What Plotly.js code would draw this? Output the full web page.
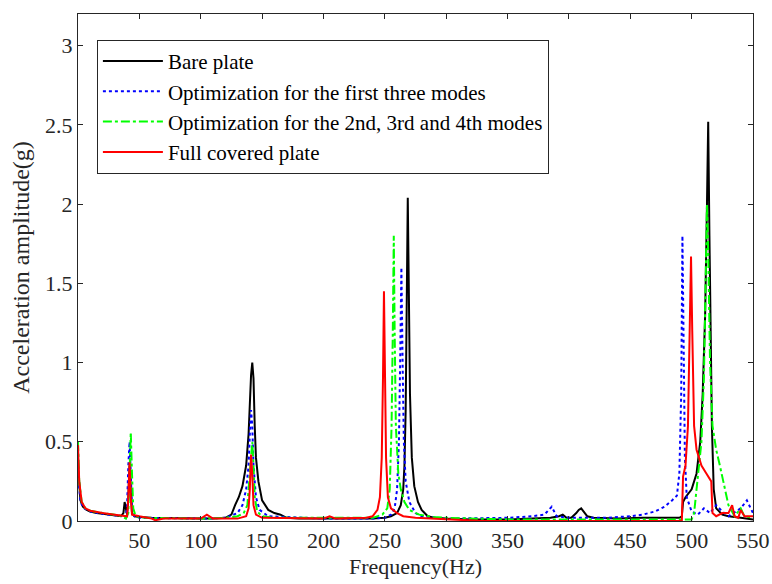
<!DOCTYPE html>
<html>
<head>
<meta charset="utf-8">
<script src="https://cdn.plot.ly/plotly-3.0.1.min.js"></script>
<style>html,body{margin:0;padding:0;background:#fff;}#chart{width:772px;height:584px;}</style>
</head>
<body>
<div id="chart"></div>
<script>
// Bare plate
const bareF = [0,1,2,4,7,10,15,20,25,30,35,37,38,39,40,41,42,43,44,46,50,60,70,80,90,100,110,120,125,128,131,134,137,139,140,141,142,143,144,145,147,150,155,160,165,170,180,200,220,240,250,255,260,263,265,266,267,268,268.7,269.5,270.5,272,274,277,280,285,290,300,320,350,370,385,392,395,398,402,406,408,410,412,415,420,440,460,480,490,492,493,495,500,504,507,509,511,512.5,513.5,514.5,515.5,516.5,518,520,525,530,540,550];
const bareA = [0.35,0.2,0.13,0.09,0.07,0.06,0.05,0.045,0.04,0.035,0.03,0.05,0.12,0.08,0.04,0.15,0.35,0.2,0.05,0.03,0.025,0.02,0.02,0.02,0.018,0.015,0.015,0.02,0.04,0.1,0.15,0.22,0.35,0.55,0.75,0.92,1.0,0.9,0.6,0.4,0.25,0.13,0.07,0.05,0.04,0.02,0.015,0.015,0.015,0.015,0.02,0.03,0.05,0.1,0.2,0.35,0.7,1.4,2.04,1.5,0.8,0.4,0.22,0.12,0.07,0.03,0.02,0.015,0.01,0.01,0.015,0.02,0.03,0.04,0.02,0.02,0.05,0.07,0.08,0.06,0.03,0.02,0.015,0.02,0.02,0.02,0.03,0.12,0.15,0.2,0.3,0.5,0.8,1.3,2.0,2.52,1.8,1.05,0.6,0.2,0.08,0.04,0.03,0.02,0.01];

// Optimization for the first three modes
const opt3F = [0,2,5,10,20,30,37,39,40,41,42,43,44,46,50,100,120,130,134,137,139,140,141,142,143,145,148,155,200,240,250,255,258,260,261.5,262.5,263.5,264.5,265.5,267,270,275,280,300,350,370,380,386,390,400,430,450,460,470,478,484,488,490,491.5,492.5,493.5,494.5,496,500,505,510,515,520,525,530,540,545,550];
const opt3A = [0.3,0.12,0.08,0.06,0.045,0.035,0.03,0.02,0.1,0.35,0.5,0.3,0.08,0.03,0.02,0.015,0.02,0.05,0.1,0.2,0.35,0.55,0.7,0.6,0.35,0.15,0.07,0.03,0.015,0.015,0.02,0.04,0.08,0.2,0.5,1.0,1.6,1.0,0.5,0.25,0.12,0.05,0.03,0.015,0.02,0.03,0.04,0.09,0.03,0.02,0.02,0.03,0.04,0.06,0.09,0.13,0.16,0.3,0.8,1.8,1.0,0.4,0.15,0.06,0.04,0.08,0.05,0.1,0.06,0.03,0.08,0.13,0.05];

// Optimization for the 2nd, 3rd and 4th modes
const opt234F = [0,1,3,6,10,20,30,36,39,41,42,43,44,45,47,55,100,120,130,135,138,140,141,142,143,144,146,150,160,200,240,248,252,254,255.5,256.5,257.3,258,259,261,263,266,270,278,290,300,350,450,500,502,504,506,508,510,511.5,512.5,513.5,515,517,520,523,526,530,535,540,543,550];
const opt234A = [0.5,0.25,0.12,0.08,0.065,0.05,0.04,0.03,0.015,0.05,0.3,0.56,0.3,0.08,0.03,0.02,0.015,0.02,0.03,0.05,0.1,0.3,0.45,0.5,0.35,0.15,0.06,0.03,0.02,0.02,0.02,0.04,0.08,0.2,0.6,1.2,1.8,1.2,0.6,0.3,0.2,0.12,0.07,0.04,0.025,0.02,0.01,0.01,0.01,0.05,0.2,0.35,0.5,0.9,1.5,2.0,1.7,1.0,0.6,0.45,0.35,0.25,0.1,0.03,0.08,0.03,0.02];

// Full covered plate
const fullF = [0,1,3,6,10,20,30,35,38,40,41,42,43,44,50,60,63,70,100,105,110,130,137,139,140,141,142,143,145,150,200,205,210,235,240,244,246,247.5,248.5,249.3,250.2,251,252.5,255,260,265,275,300,320,330,490,492,493,495,497,498.5,499.5,500.5,502,504,508,512,516,517,520,525,530,533,535,538,540,543,548,550];
const fullA = [0.48,0.25,0.12,0.08,0.065,0.05,0.04,0.035,0.03,0.03,0.15,0.37,0.15,0.04,0.03,0.015,0.005,0.015,0.015,0.04,0.015,0.015,0.03,0.08,0.2,0.42,0.3,0.1,0.04,0.02,0.015,0.03,0.015,0.02,0.03,0.07,0.15,0.4,0.9,1.45,0.9,0.4,0.15,0.08,0.05,0.03,0.02,0.01,0.005,0.0,0.0,0.0,0.28,0.35,0.6,1.2,1.67,1.2,0.6,0.45,0.35,0.3,0.25,0.05,0.03,0.05,0.05,0.1,0.03,0.02,0.07,0.03,0.03,0.03];

const xTicks = [50,100,150,200,250,300,350,400,450,500,550];
const yTicks = [0,0.5,1,1.5,2,2.5,3];
const yTickText = ['0','0.5','1','1.5','2','2.5','3'];

const traces = [
  {x: bareF, y: bareA, name: 'Bare plate', mode: 'lines', line: {color: '#000000', width: 2}},
  {x: opt3F, y: opt3A, name: 'Optimization for the first three modes', mode: 'lines', line: {color: '#0000ff', width: 2, dash: 'dot'}},
  {x: opt234F, y: opt234A, name: 'Optimization for the 2nd, 3rd and 4th modes', mode: 'lines', line: {color: '#00ff00', width: 2, dash: 'dashdot'}},
  {x: fullF, y: fullA, name: 'Full covered plate', mode: 'lines', line: {color: '#ff0000', width: 2}}
];

const fnt = {family: 'Liberation Serif, Times New Roman, serif', size: 22, color: '#262626'};
const layout = {
  width: 772, height: 584,
  margin: {l: 78, r: 19, t: 14, b: 63},
  paper_bgcolor: '#ffffff', plot_bgcolor: '#ffffff',
  font: fnt,
  showlegend: true,
  legend: {
    x: 0.028, y: 0.949, xanchor: 'left', yanchor: 'top',
    bgcolor: '#ffffff', bordercolor: '#262626', borderwidth: 1,
    font: {family: fnt.family, size: 21, color: '#000000'},
    tracegroupgap: 0, itemwidth: 60
  },
  xaxis: {
    range: [0, 550], tickvals: xTicks, ticktext: xTicks.map(String),
    ticks: 'inside', ticklen: 5, tickcolor: '#262626',
    showline: true, linecolor: '#262626', linewidth: 1, mirror: 'ticks',
    showgrid: false, zeroline: false,
    title: {text: 'Frequency(Hz)', font: fnt, standoff: 6},
    tickfont: fnt
  },
  yaxis: {
    range: [0, 3.2], tickvals: yTicks, ticktext: yTickText,
    ticks: 'inside', ticklen: 5, tickcolor: '#262626',
    showline: true, linecolor: '#262626', linewidth: 1, mirror: 'ticks',
    showgrid: false, zeroline: false,
    title: {text: 'Acceleration amplitude(g)', font: {family: fnt.family, size: 24, color: '#262626'}, standoff: 8},
    tickfont: fnt
  }
};

Plotly.newPlot('chart', traces, layout, {displayModeBar: false, staticPlot: true});
</script>
</body>
</html>
